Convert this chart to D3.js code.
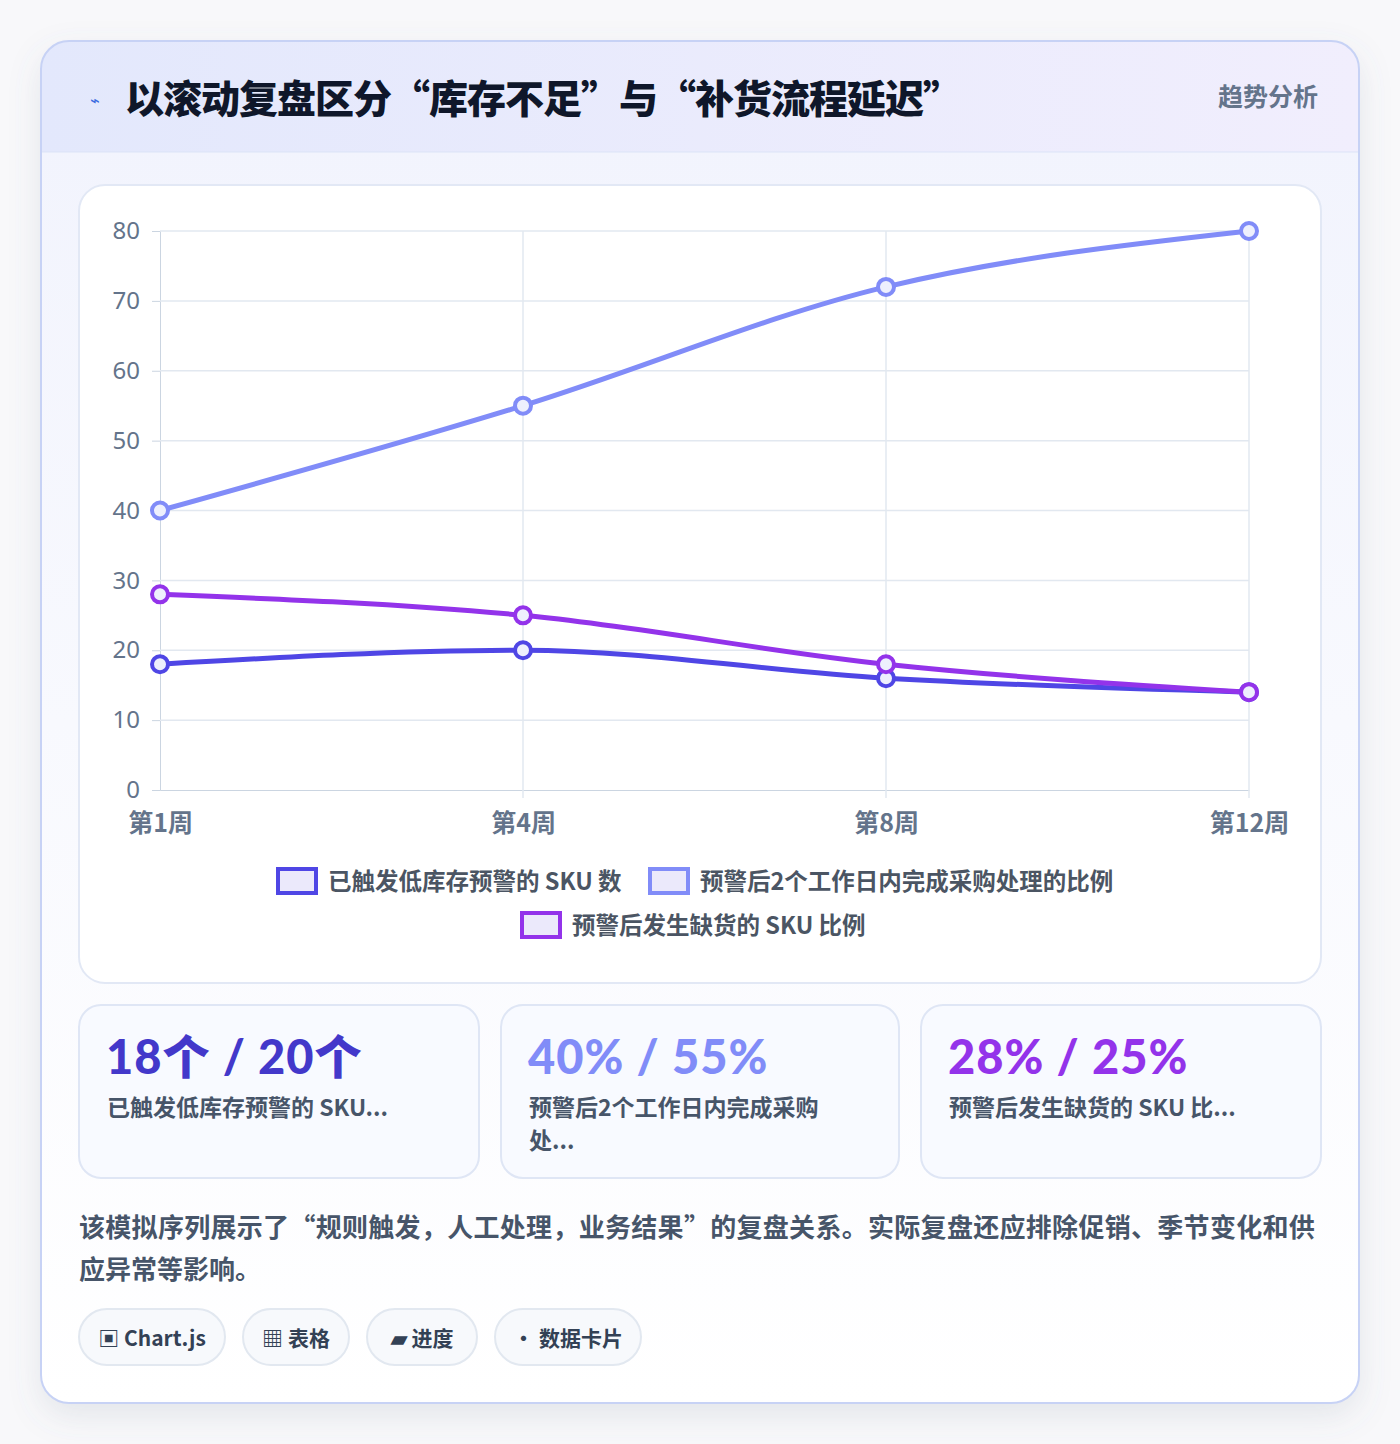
<!DOCTYPE html>
<html><head><meta charset="utf-8">
<script src="https://cdn.jsdelivr.net/npm/d3@7"></script>
<style>
body{margin:0;width:1400px;height:1444px;background:#f8f8fa;font-family:"Noto Sans CJK SC","Noto Sans",sans-serif;}
</style></head><body>
<svg id="c" width="1400" height="1444"></svg>
<script>
const categories=["第1周","第4周","第8周","第12周"];
const seriesNames=["已触发低库存预警的 SKU 数","预警后2个工作日内完成采购处理的比例","预警后发生缺货的 SKU 比例"];
const s1=[18,20,16,14];
const s2=[40,55,72,80];
const s3=[28,25,18,14];
const yTicks=[0,10,20,30,40,50,60,70,80];
const colors=["#4f46e5","#818cf8","#9333ea"];
const statValues=["18个 / 20个","40% / 55%","28% / 25%"];
const statLabels=[["已触发低库存预警的 SKU..."],["预警后2个工作日内完成采购","处..."],["预警后发生缺货的 SKU 比..."]];
const tags=["▣ Chart.js","▦ 表格","▰ 进度","• 数据卡片"];

const svg=d3.select("#c");
const defs=svg.append("defs");
const f=defs.append("filter").attr("id","sh").attr("x","-10%").attr("y","-10%").attr("width","120%").attr("height","120%");
f.append("feDropShadow").attr("dx",0).attr("dy",12).attr("stdDeviation",16).attr("flood-color","#64748b").attr("flood-opacity",0.15);
const g1=defs.append("linearGradient").attr("id","hg").attr("x1",0).attr("x2",1);
g1.append("stop").attr("offset",0).attr("stop-color","#e3e8fc");
g1.append("stop").attr("offset",1).attr("stop-color","#f1eefd");
const g2=defs.append("linearGradient").attr("id","bg").attr("x1",0).attr("x2",0).attr("y1",0).attr("y2",1);
g2.append("stop").attr("offset",0).attr("stop-color","#f1f3fd");
g2.append("stop").attr("offset",1).attr("stop-color","#ffffff");
const cp=defs.append("clipPath").attr("id","cc");
cp.append("rect").attr("x",41).attr("y",41).attr("width",1318).attr("height",1362).attr("rx",28);

svg.append("rect").attr("x",41).attr("y",41).attr("width",1318).attr("height",1362).attr("rx",28).attr("fill","url(#bg)").attr("filter","url(#sh)");
svg.append("rect").attr("x",41).attr("y",41).attr("width",1318).attr("height",111).attr("fill","url(#hg)").attr("clip-path","url(#cc)");
svg.append("line").attr("x1",41).attr("x2",1359).attr("y1",152).attr("y2",152).attr("stroke","#dbe3f7");
svg.append("rect").attr("x",41).attr("y",41).attr("width",1318).attr("height",1362).attr("rx",28).attr("fill","none").attr("stroke","#c7d2f5").attr("stroke-width",2);
svg.append("text").attr("x",95).attr("y",106).attr("text-anchor","middle").attr("font-size",16).attr("font-weight",700).attr("fill","#3b6be0").attr("font-family","DejaVu Sans").text("⌁");
svg.append("text").attr("x",125).attr("y",113).attr("font-size",39).attr("font-weight",900).attr("fill","#0f172a").attr("letter-spacing",-1).text("以滚动复盘区分“库存不足”与“补货流程延迟”");
svg.append("text").attr("x",1318).attr("y",106).attr("text-anchor","end").attr("font-size",25).attr("font-weight",700).attr("fill","#64748b").text("趋势分析");

// chart panel
svg.append("rect").attr("x",79).attr("y",185).attr("width",1242).attr("height",798).attr("rx",26).attr("fill","#fff").attr("stroke","#e2e8f5").attr("stroke-width",2);
const x=d3.scalePoint().domain(categories).range([160,1249]);
const y=d3.scaleLinear().domain([0,80]).range([790,231]);
const gx=svg.append("g").attr("transform","translate(0,790)").call(d3.axisBottom(x).tickSize(0).tickPadding(24));
gx.select(".domain").attr("stroke","#cbd5e1");
gx.selectAll("text").attr("font-size",25).attr("font-weight",700).attr("fill","#64748b").attr("font-family","Noto Sans CJK SC");
const gy=svg.append("g").attr("transform","translate(160,0)").call(d3.axisLeft(y).tickValues(yTicks).tickSize(8).tickPadding(12));
gy.select(".domain").attr("stroke","#cbd5e1");
gy.selectAll(".tick line").attr("stroke","#cbd5e1");
gy.selectAll("text").attr("font-size",24).attr("fill","#64748b").attr("font-family","Noto Sans");
svg.append("g").selectAll("line").data(yTicks.filter(d=>d>0)).join("line").attr("x1",160).attr("x2",1249).attr("y1",d=>y(d)).attr("y2",d=>y(d)).attr("stroke","#e2e8f0").attr("stroke-width",1.5);
svg.append("g").selectAll("line").data(categories.slice(1)).join("line").attr("x1",d=>x(d)).attr("x2",d=>x(d)).attr("y1",231).attr("y2",798).attr("stroke","#e2e8f0").attr("stroke-width",1.5);

const line=d3.line().x((d,i)=>x(categories[i])).y(d=>y(d)).curve(d3.curveMonotoneX);
[s2,s1,s3].forEach((s,k)=>{
  const ci=[1,0,2][k];
  svg.append("path").attr("d",line(s)).attr("fill","none").attr("stroke",colors[ci]).attr("stroke-width",5);
});
[s2,s1,s3].forEach((s,k)=>{
  const ci=[1,0,2][k];
  svg.append("g").selectAll("circle").data(s).join("circle").attr("cx",(d,i)=>x(categories[i])).attr("cy",d=>y(d)).attr("r",8)
   .attr("fill","#eef0fd").attr("stroke",colors[ci]).attr("stroke-width",4);
});

// legend
const leg=[{i:0,x:278,y:881},{i:1,x:650,y:881},{i:2,x:522,y:925}];
leg.forEach(l=>{
  svg.append("rect").attr("x",l.x).attr("y",l.y-12).attr("width",38).attr("height",24).attr("fill","#ebe9fb").attr("stroke",colors[l.i]).attr("stroke-width",4);
  svg.append("text").attr("x",l.x+50).attr("y",l.y+9).attr("font-size",23.5).attr("font-weight",700).attr("fill","#4b5563").text(seriesNames[l.i]);
});

// stat cards
const cx=[79,501,921],cw=[400,398,400];
const vcol=["#4338ca","#818cf8","#9333ea"];
cx.forEach((xx,i)=>{
  svg.append("rect").attr("x",xx).attr("y",1005).attr("width",cw[i]).attr("height",173).attr("rx",22).attr("fill","#f8faff").attr("stroke","#dfe6f5").attr("stroke-width",2);
  svg.append("text").attr("x",xx+27).attr("y",1074).attr("font-size",47).attr("font-weight",900).attr("fill",vcol[i]).attr("letter-spacing",1).attr("font-family","Lato,Noto Sans CJK SC").text(statValues[i]);
  statLabels[i].forEach((t,j)=>svg.append("text").attr("x",xx+28).attr("y",1116+j*33).attr("font-size",23).attr("font-weight",700).attr("fill","#475569").text(t));
});
svg.append("text").attr("x",79).attr("y",1237).attr("font-size",26).attr("font-weight",700).attr("fill","#475569").attr("letter-spacing",0.3).text("该模拟序列展示了“规则触发，人工处理，业务结果”的复盘关系。实际复盘还应排除促销、季节变化和供");
svg.append("text").attr("x",79).attr("y",1279).attr("font-size",26).attr("font-weight",700).attr("fill","#475569").text("应异常等影响。");

const tx=[79,243,367,495],tw=[146,106,110,146];
tags.forEach((t,i)=>{
  svg.append("rect").attr("x",tx[i]).attr("y",1309).attr("width",tw[i]).attr("height",56).attr("rx",28).attr("fill","#f7f9fc").attr("stroke","#e2e8f0").attr("stroke-width",2);
  svg.append("text").attr("x",tx[i]+tw[i]/2).attr("y",1346).attr("text-anchor","middle").attr("font-size",21).attr("font-weight",700).attr("fill","#334155").text(t);
});
</script></body></html>
